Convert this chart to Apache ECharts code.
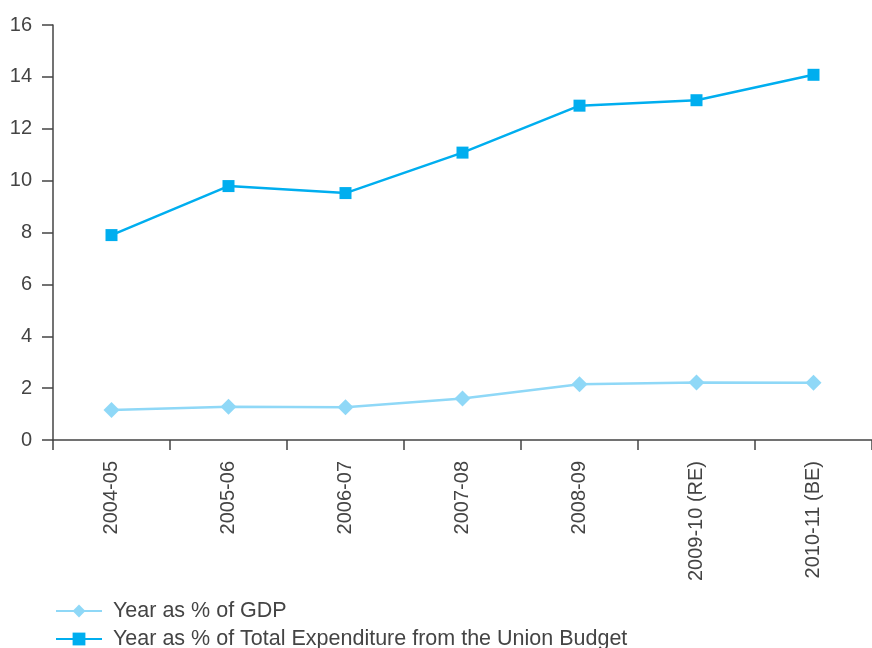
<!DOCTYPE html>
<html>
<head>
<meta charset="utf-8">
<script src="https://cdn.jsdelivr.net/npm/echarts@6/dist/echarts.min.js"></script>
<style>
html, body { margin: 0; padding: 0; background: #fff; }
#main { width: 872px; height: 648px; }
</style>
</head>
<body>
<div id="main"></div>
<script>
var years = ['2004-05', '2005-06', '2006-07', '2007-08', '2008-09', '2009-10 (RE)', '2010-11 (BE)'];
var gdpShare = [1.16, 1.28, 1.26, 1.6, 2.15, 2.22, 2.21];
var budgetShare = [7.9, 9.79, 9.52, 11.08, 12.89, 13.1, 14.08];
var seriesNames = ['Year as % of GDP', 'Year as % of Total Expenditure from the Union Budget'];
var yTicks = { min: 0, max: 16, interval: 2 };

var myChart = echarts.init(document.getElementById('main'));
var axisColor = '#444';
var fontName = 'Liberation Sans';

// one legend per row so the two rows sit exactly where the reference has them
function legendRow(name, top) {
    return {
        orient: 'horizontal',
        left: 55,
        top: top,
        padding: 0,
        itemWidth: 46,
        itemHeight: 16,
        textStyle: { fontFamily: fontName, fontSize: 21.5, color: '#444', padding: [0, 0, 0, 6] },
        data: [name]
    };
}

var option = {
    animation: false,
    grid: { left: 53, right: 0, top: 25, bottom: 208, containLabel: false },
    legend: [legendRow(seriesNames[0], 600), legendRow(seriesNames[1], 628)],
    xAxis: {
        type: 'category',
        data: years,
        boundaryGap: true,
        axisLine: { lineStyle: { color: axisColor, width: 1.5 } },
        axisTick: { show: true, length: 10, lineStyle: { color: axisColor, width: 1.5 } },
        axisLabel: { rotate: 90, margin: 21, fontFamily: fontName, fontSize: 20, color: axisColor, interval: 0 },
        splitLine: { show: false }
    },
    yAxis: {
        type: 'value',
        min: yTicks.min,
        max: yTicks.max,
        interval: yTicks.interval,
        axisLine: { show: true, lineStyle: { color: axisColor, width: 1.5 } },
        axisTick: { show: true, length: 11, lineStyle: { color: axisColor, width: 1.5 } },
        axisLabel: { margin: 21, fontFamily: fontName, fontSize: 20, color: axisColor },
        splitLine: { show: false }
    },
    series: [
        {
            name: seriesNames[0],
            type: 'line',
            data: gdpShare,
            symbol: 'diamond',
            symbolSize: 16,
            lineStyle: { color: '#8fd8f7', width: 2.5 },
            itemStyle: { color: '#8fd8f7' }
        },
        {
            name: seriesNames[1],
            type: 'line',
            data: budgetShare,
            symbol: 'rect',
            symbolSize: 12,
            lineStyle: { color: '#00aeef', width: 2.5 },
            itemStyle: { color: '#00aeef' }
        }
    ]
};
myChart.setOption(option);
</script>
</body>
</html>
